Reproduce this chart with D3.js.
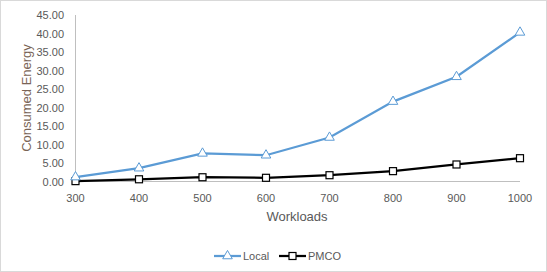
<!DOCTYPE html>
<html>
<head>
    <script src="https://cdn.jsdelivr.net/npm/d3@7/dist/d3.min.js"></script>
    <style>
        body { margin: 0; background: #fff; }
        text { font-family: "Liberation Sans", Arial, sans-serif; }
    </style>
</head>
<body>
    <svg id="chart"></svg>
    <script>
        // data
        var workloads = ["300", "400", "500", "600", "700", "800", "900", "1000"];
        var local = [1.2, 3.6, 7.6, 7.1, 11.9, 21.6, 28.3, 40.3];
        var pmco = [0.1, 0.6, 1.15, 1.0, 1.7, 2.8, 4.6, 6.3];
        var yTicks = [0, 5, 10, 15, 20, 25, 30, 35, 40, 45];

        var width = 547;
        var height = 272;

        var svg = d3.select("#chart")
            .attr("width", width)
            .attr("height", height);

        // outer chart border
        svg.append("rect")
            .attr("x", 0.5).attr("y", 0.5)
            .attr("width", width - 1).attr("height", height - 1)
            .attr("fill", "#fff")
            .attr("stroke", "#d9d9d9");

        var x = d3.scalePoint()
            .domain(workloads)
            .range([75.5, 520]);

        var y = d3.scaleLinear()
            .domain([0, 45])
            .range([181.5, 15]);

        // axis lines
        svg.append("line")
            .attr("x1", 75.5).attr("x2", 75.5)
            .attr("y1", y(45)).attr("y2", y(0))
            .attr("stroke", "#bfbfbf");
        svg.append("line")
            .attr("x1", 75.5).attr("x2", 520)
            .attr("y1", y(0)).attr("y2", y(0))
            .attr("stroke", "#bfbfbf");

        // y tick labels
        svg.selectAll(".ytick")
            .data(yTicks)
            .enter()
            .append("text")
            .attr("class", "ytick")
            .attr("x", 64)
            .attr("y", function(d) { return y(d) + 4; })
            .attr("text-anchor", "end")
            .attr("font-size", 11)
            .attr("fill", "#595959")
            .text(function(d) { return d3.format(".2f")(d); });

        // x tick labels
        svg.selectAll(".xtick")
            .data(workloads)
            .enter()
            .append("text")
            .attr("class", "xtick")
            .attr("x", function(d) { return x(d); })
            .attr("y", 202)
            .attr("text-anchor", "middle")
            .attr("font-size", 11)
            .attr("fill", "#595959")
            .text(function(d) { return d; });

        // axis titles
        svg.append("text")
            .attr("x", 297).attr("y", 221)
            .attr("text-anchor", "middle")
            .attr("font-size", 13)
            .attr("fill", "#595959")
            .text("Workloads");

        svg.append("text")
            .attr("transform", "translate(31,98) rotate(-90)")
            .attr("text-anchor", "middle")
            .attr("font-size", 13)
            .attr("fill", "#7a6455")
            .text("Consumed Energy");

        var line = d3.line()
            .x(function(d, i) { return x(workloads[i]); })
            .y(function(d) { return y(d); });

        var tri = d3.symbol().type(d3.symbolTriangle).size(40);

        // PMCO series
        svg.append("path")
            .datum(pmco)
            .attr("fill", "none")
            .attr("stroke", "#000")
            .attr("stroke-width", 2.25)
            .attr("d", line);
        svg.selectAll(".sq")
            .data(pmco)
            .enter()
            .append("rect")
            .attr("class", "sq")
            .attr("x", function(d, i) { return x(workloads[i]) - 3.5; })
            .attr("y", function(d) { return y(d) - 3.5; })
            .attr("width", 7).attr("height", 7)
            .attr("fill", "#fff")
            .attr("stroke", "#000")
            .attr("stroke-width", 1.2);

        // Local series
        svg.append("path")
            .datum(local)
            .attr("fill", "none")
            .attr("stroke", "#5b9bd5")
            .attr("stroke-width", 2.25)
            .attr("d", line);
        svg.selectAll(".tri")
            .data(local)
            .enter()
            .append("path")
            .attr("class", "tri")
            .attr("transform", function(d, i) {
                return "translate(" + x(workloads[i]) + "," + y(d) + ")";
            })
            .attr("d", tri)
            .attr("fill", "#fff")
            .attr("stroke", "#5b9bd5")
            .attr("stroke-width", 1);

        // legend
        var lg = svg.append("g");
        lg.append("line")
            .attr("x1", 214).attr("x2", 241)
            .attr("y1", 256).attr("y2", 256)
            .attr("stroke", "#5b9bd5").attr("stroke-width", 2.25);
        lg.append("path")
            .attr("transform", "translate(227.5,256)")
            .attr("d", tri)
            .attr("fill", "#fff")
            .attr("stroke", "#5b9bd5");
        lg.append("text")
            .attr("x", 243).attr("y", 260)
            .attr("font-size", 11)
            .attr("fill", "#595959")
            .text("Local");

        lg.append("line")
            .attr("x1", 279).attr("x2", 306)
            .attr("y1", 256).attr("y2", 256)
            .attr("stroke", "#000").attr("stroke-width", 2.25);
        lg.append("rect")
            .attr("x", 289).attr("y", 252.5)
            .attr("width", 7).attr("height", 7)
            .attr("fill", "#fff")
            .attr("stroke", "#000").attr("stroke-width", 1.2);
        lg.append("text")
            .attr("x", 308).attr("y", 260)
            .attr("font-size", 11)
            .attr("fill", "#595959")
            .text("PMCO");
    </script>
</body>
</html>
